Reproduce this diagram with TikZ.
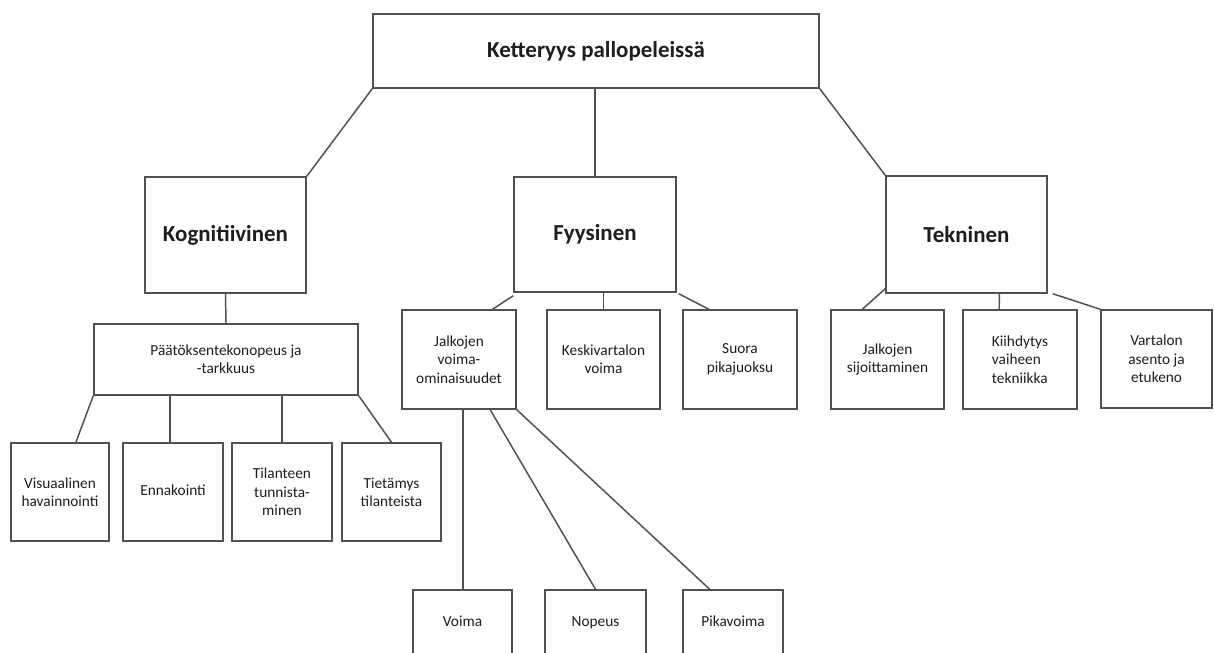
\documentclass[tikz,border=0pt]{standalone}
\usepackage{fontspec}
\setmainfont{Carlito}
\usetikzlibrary{calc}
\definecolor{linegray}{RGB}{80,80,80}
\definecolor{txt}{RGB}{30,30,30}
\tikzset{
  box/.style={draw=linegray, line width=1.1pt, rectangle, inner sep=0pt, text=txt, align=center},
  bigbox/.style={box, font=\fontsize{17.2}{20}\selectfont\bfseries},
  smallbox/.style={box, font=\fontsize{11.5}{13.8}\selectfont},
  oneline/.style={smallbox, text height=1.6ex, text depth=0.45ex},
  link/.style={draw=linegray, line width=1.1pt},
}
\begin{document}
\begin{tikzpicture}[x=0.75pt, y=-0.75pt]
\clip (0,0) rectangle (1214,653);
\fill[white] (0,0) rectangle (1214,653);
% level 0
\node[bigbox, minimum width=446*0.75pt, minimum height=74*0.75pt] (top) at (596,51) {Ketteryys pallopeleissä};
% level 1
\node[bigbox, minimum width=161*0.75pt, minimum height=116*0.75pt] (kog) at (225.5,235) {Kognitiivinen};
\node[bigbox, minimum width=162*0.75pt, minimum height=115*0.75pt] (fyy) at (595,234.5) {Fyysinen};
\node[bigbox, minimum width=161*0.75pt, minimum height=117*0.75pt] (tek) at (966.5,234.5) {Tekninen};
% cognitive
\node[smallbox, minimum width=264*0.75pt, minimum height=71*0.75pt] (paa) at (226,359.5) {Päätöksentekonopeus ja\\-tarkkuus};
\node[smallbox, minimum width=98*0.75pt, minimum height=98*0.75pt] (vis) at (60,492) {Visuaalinen\\havainnointi};
\node[oneline, minimum width=100*0.75pt, minimum height=98*0.75pt] (enn) at (173,492) {Ennakointi};
\node[smallbox, minimum width=100*0.75pt, minimum height=98*0.75pt] (til) at (282,492) {Tilanteen\\tunnista-\\minen};
\node[smallbox, minimum width=99*0.75pt, minimum height=98*0.75pt] (tie) at (391.5,492) {Tietämys\\tilanteista};
% physical
\node[smallbox, minimum width=114*0.75pt, minimum height=99*0.75pt] (jv) at (459,359.5) {Jalkojen\\voima-\\ominaisuudet};
\node[smallbox, minimum width=113*0.75pt, minimum height=99*0.75pt] (kes) at (603.5,359.5) {Keskivartalon\\voima};
\node[smallbox, minimum width=114*0.75pt, minimum height=99*0.75pt] (suo) at (740,359.5) {Suora\\pikajuoksu};
\node[oneline, minimum width=99*0.75pt, minimum height=66*0.75pt] (voi) at (462.5,623) {Voima};
\node[oneline, minimum width=101*0.75pt, minimum height=66*0.75pt] (nop) at (595.5,623) {Nopeus};
\node[oneline, minimum width=100*0.75pt, minimum height=66*0.75pt] (pik) at (733,623) {Pikavoima};
% technical
\node[smallbox, minimum width=113*0.75pt, minimum height=99*0.75pt] (js) at (887.5,359.5) {Jalkojen\\sijoittaminen};
\node[smallbox, minimum width=114*0.75pt, minimum height=99*0.75pt, align=left] (kii) at (1020,359.5) {Kiihdytys\\vaiheen\\tekniikka};
\node[smallbox, minimum width=111*0.75pt, minimum height=98*0.75pt] (var) at (1156.5,359) {Vartalon\\asento ja\\etukeno};
% helper coordinates
\path (voi.north) ++(0.5,0) coordinate (vtop);
\path (enn.north) ++(-3,0) coordinate (etop);
% connectors
\draw[link] (top.south west) -- (kog.north east);
\draw[link] (top.south -| fyy.north) -- (fyy.north);
\draw[link] (top.south east) -- (tek.north west);
\draw[link] (kog.south) -- (paa.north);
\draw[link] (paa.south west) -- ($(vis.north west)!0.66!(vis.north east)$);
\draw[link] (etop |- paa.south) -- (etop);
\draw[link] (til.north |- paa.south) -- (til.north);
\draw[link] (paa.south east) -- (tie.north);
\draw[link] ($(fyy.south west)+(0,3)$) -- ($(jv.north west)!0.79!(jv.north east)$);
\draw[link] (kes.north |- fyy.south) -- (kes.north);
\draw[link] ($(fyy.south east)+(2,1)$) -- ($(suo.north west)!0.23!(suo.north east)$);
\draw[link] (vtop |- jv.south) -- (vtop);
\draw[link] ($(jv.south west)!0.77!(jv.south east)$) -- (nop.north);
\draw[link] (jv.south east) -- ($(pik.north west)!0.27!(pik.north east)$);
\draw[link] ($(tek.south west)+(0,-5)$) -- ($(js.north west)!0.28!(js.north east)$);
\draw[link] ($(tek.south west)!0.702!(tek.south east)$) -- ($(kii.north west)!0.32!(kii.north east)$);
\draw[link] ($(tek.south east)+(5,0)$) -- (var.north west);
\end{tikzpicture}
\end{document}
